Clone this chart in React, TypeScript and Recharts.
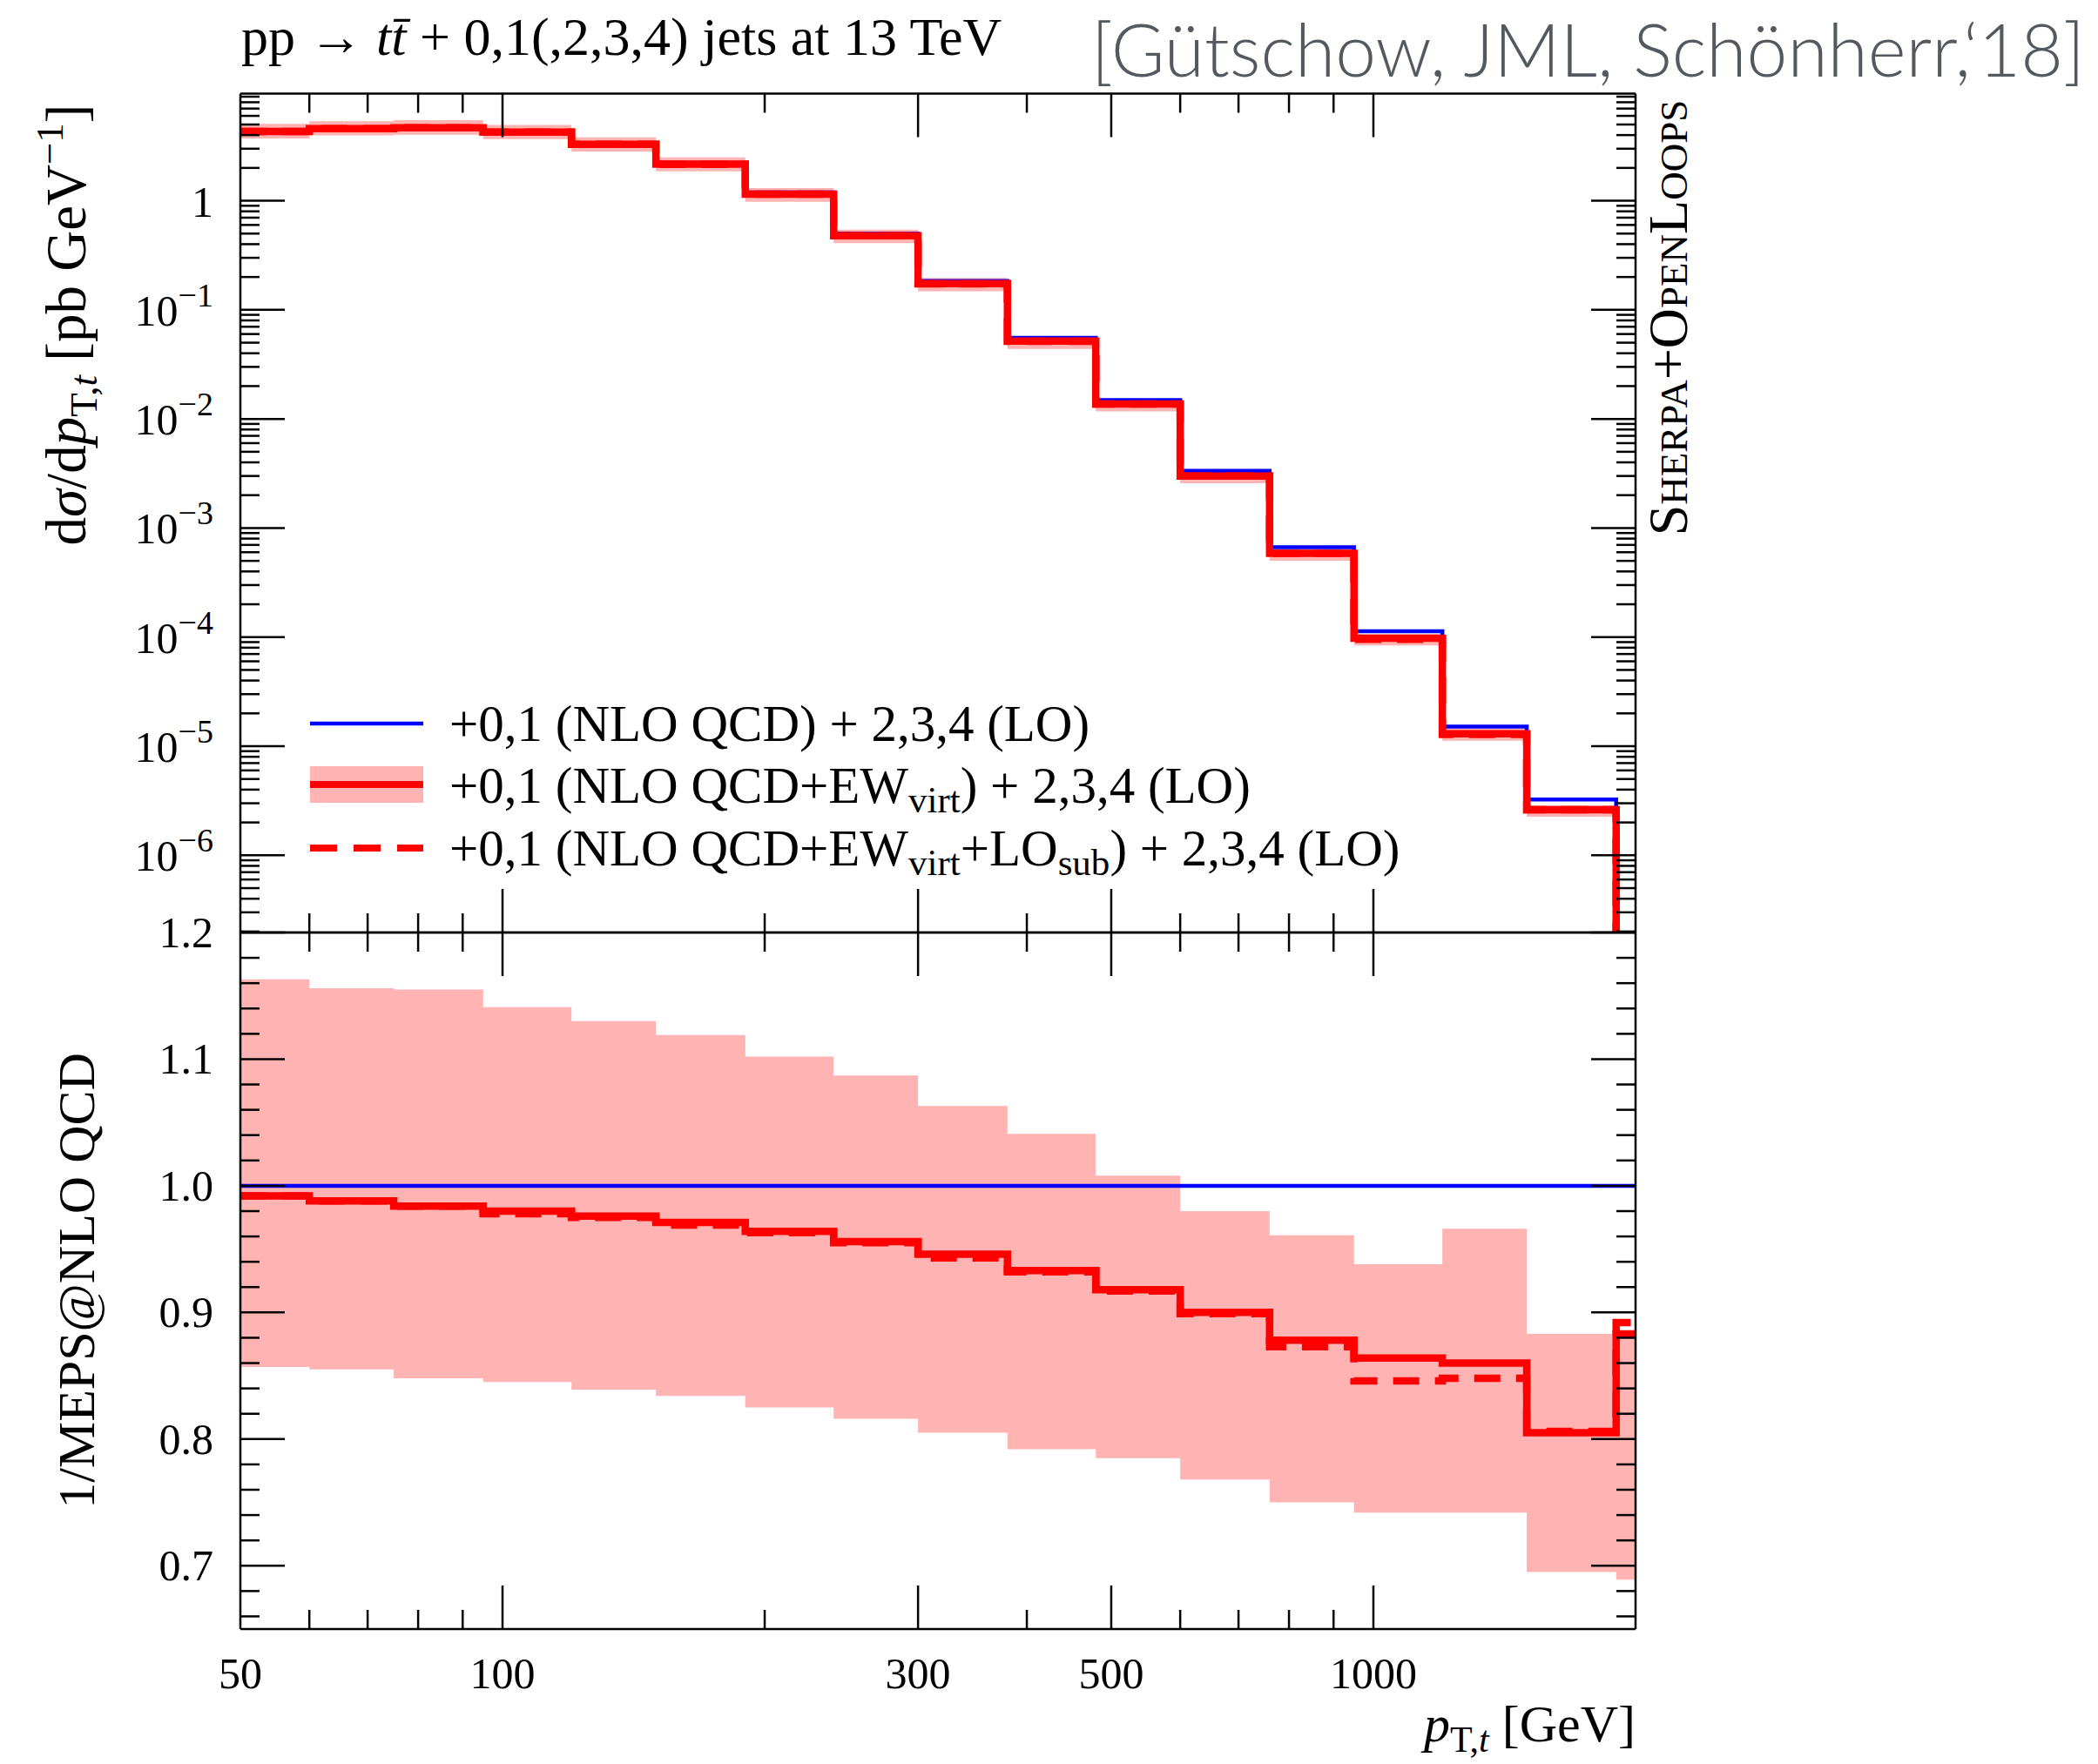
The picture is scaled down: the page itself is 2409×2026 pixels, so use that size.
import { Area, ComposedChart, Line, XAxis, YAxis } from "recharts";

const W = 2409;
const H = 2026;
const FONT = "'Liberation Serif', serif";
const PINK = "#ffb3b3";
const RED = "#ff0000";
const BLUE = "#0000ff";

// plot frame in page pixels
const PLOT_L = 276;
const PLOT_R = 1878;
const TOP_Y0 = 107.5;
const MID_Y = 1071;
const BOT_Y1 = 1871;
const AX = 1; // thickness reserved for each axis

// p_T,t bin edges [GeV]; values below are per bin (17 bins)
const binEdges = [50, 60, 75, 95, 120, 150, 190, 240, 300, 380, 480, 600, 760, 950, 1200, 1500, 1900, 2000];

// dσ/dp_T,t [pb/GeV]
const nloQcd = [4.35, 4.64, 4.75, 4.35, 3.37, 2.23, 1.19, 0.5, 0.184, 0.0553, 0.0149, 3.34e-3, 6.68e-4, 1.13e-4, 1.51e-5, 3.25e-6, 1.2e-7];
const nloQcdEw = [4.31, 4.58, 4.67, 4.26, 3.29, 2.17, 1.15, 0.478, 0.174, 0.0516, 0.0137, 3.0e-3, 5.86e-4, 9.76e-5, 1.3e-5, 2.62e-6, 1.06e-7];
const nloQcdEwSub = [4.31, 4.58, 4.67, 4.25, 3.29, 2.16, 1.15, 0.478, 0.1735, 0.0515, 0.0137, 3.0e-3, 5.83e-4, 9.56e-5, 1.28e-5, 2.62e-6, 1.07e-7];
const bandLo = [3.73, 3.97, 4.03, 3.68, 2.83, 1.86, 0.98, 0.408, 0.148, 0.0438, 0.0117, 2.57e-3, 5.01e-4, 8.38e-5, 1.12e-5, 2.26e-6, 8.3e-8];
const bandHi = [5.06, 5.36, 5.49, 4.96, 3.81, 2.5, 1.31, 0.544, 0.196, 0.0576, 0.015, 3.28e-3, 6.42e-4, 1.06e-4, 1.46e-5, 2.87e-6, 1.06e-7];

// ratio to MEPS@NLO QCD
const ratioQcd = [1, 1, 1, 1, 1, 1, 1, 1, 1, 1, 1, 1, 1, 1, 1, 1, 1];
const ratioEw = [0.992, 0.988, 0.984, 0.98, 0.976, 0.971, 0.964, 0.956, 0.946, 0.933, 0.918, 0.9, 0.878, 0.864, 0.86, 0.805, 0.883];
const ratioEwSub = [0.992, 0.988, 0.984, 0.978, 0.975, 0.969, 0.963, 0.955, 0.943, 0.932, 0.917, 0.899, 0.873, 0.846, 0.848, 0.806, 0.892];
const ratioBandLo = [0.857, 0.855, 0.848, 0.845, 0.839, 0.834, 0.825, 0.816, 0.805, 0.792, 0.785, 0.768, 0.75, 0.742, 0.742, 0.695, 0.689];
const ratioBandHi = [1.163, 1.156, 1.155, 1.141, 1.13, 1.119, 1.102, 1.087, 1.063, 1.041, 1.008, 0.98, 0.961, 0.938, 0.966, 0.883, 0.883];

// axes
const xTicks = [50, 60, 70, 80, 90, 100, 200, 300, 400, 500, 600, 700, 800, 900, 1000, 2000];
const xMajor = [100, 300, 500, 1000];
const xLabels = [50, 100, 300, 500, 1000];
const yDecades = [1e-6, 1e-5, 1e-4, 1e-3, 1e-2, 1e-1, 1];
const logDomain = [1.96e-7, 9.6];
const ratioTicks = [0.66, 0.68, 0.7, 0.72, 0.74, 0.76, 0.78, 0.8, 0.82, 0.84, 0.86, 0.88, 0.9, 0.92, 0.94, 0.96, 0.98, 1.0, 1.02, 1.04, 1.06, 1.08, 1.1, 1.12, 1.14, 1.16, 1.18, 1.2];
const ratioMajor = [0.7, 0.8, 0.9, 1.0, 1.1, 1.2];

const logTicks: number[] = [];
[1e-7, ...yDecades].forEach((d) => {
  for (let m = 1; m <= 9; m++) {
    const v = m * d;
    if (v >= logDomain[0] && v <= logDomain[1]) logTicks.push(v);
  }
});

const last = binEdges.length - 2;
const rows = binEdges.map((x, i) => {
  const j = Math.min(i, last);
  return {
    x,
    qcd: nloQcd[j],
    ew: nloQcdEw[j],
    ewSub: nloQcdEwSub[j],
    band: [bandLo[j], bandHi[j]],
    rQcd: ratioQcd[j],
    rEw: ratioEw[j],
    rEwSub: ratioEwSub[j],
    rBand: [ratioBandLo[j], ratioBandHi[j]],
  };
});

const near = (a: number, b: number) => Math.abs(a - b) < 1e-9 * Math.max(1, Math.abs(b));

function xTick(side: "top" | "bottom", labels: boolean) {
  return (props: any) => {
    const { x, y, payload } = props;
    const v = payload.value;
    const edge = v === 50 || v === 2000;
    const len = xMajor.includes(v) ? 50 : 22;
    const dir = side === "bottom" ? -1 : 1;
    return (
      <g>
        {!edge && <line x1={x} x2={x} y1={y} y2={y + dir * len} stroke="#000" strokeWidth={2.5} />}
        {labels && xLabels.includes(v) && (
          <text x={x} y={y + 68} textAnchor="middle" fontSize={50} fontFamily={FONT} fill="#000">
            {v}
          </text>
        )}
      </g>
    );
  };
}

function logTick(side: "left" | "right") {
  return (props: any) => {
    const { x, y, payload } = props;
    const v = payload.value;
    const major = yDecades.some((d) => near(v, d));
    const len = major ? 51 : 22;
    const dir = side === "left" ? 1 : -1;
    const exp = Math.round(Math.log10(v));
    return (
      <g>
        <line x1={x} x2={x + dir * len} y1={y} y2={y} stroke="#000" strokeWidth={2.5} />
        {side === "left" && major && (
          <text x={245} y={y + 18} textAnchor="end" fontSize={50} fontFamily={FONT} fill="#000">
            {exp === 0 ? "1" : "10"}
            {exp !== 0 && (
              <tspan fontSize={38} dy={-22}>
                {"\u2212" + -exp}
              </tspan>
            )}
          </text>
        )}
      </g>
    );
  };
}

function ratioTick(side: "left" | "right") {
  return (props: any) => {
    const { x, y, payload } = props;
    const v = payload.value;
    const major = ratioMajor.some((d) => near(v, d));
    const len = major ? 51 : 22;
    const dir = side === "left" ? 1 : -1;
    return (
      <g>
        <line x1={x} x2={x + dir * len} y1={y} y2={y} stroke="#000" strokeWidth={2.5} />
        {side === "left" && major && (
          <text x={245} y={y + 17} textAnchor="end" fontSize={50} fontFamily={FONT} fill="#000">
            {v.toFixed(1)}
          </text>
        )}
      </g>
    );
  };
}

const axisLine = { stroke: "#000", strokeWidth: 2.5 };

function TopPanel() {
  return (
    <ComposedChart
      width={W}
      height={H}
      data={rows}
      margin={{ top: TOP_Y0 - AX, right: W - PLOT_R - AX, bottom: H - MID_Y - AX, left: PLOT_L - AX }}
      style={{ position: "absolute", left: 0, top: 0 }}
    >
      <XAxis xAxisId="b" dataKey="x" type="number" scale="log" domain={[50, 2000]} allowDataOverflow ticks={xTicks} interval={0} height={AX} tickSize={0} tickMargin={0} axisLine={axisLine} tickLine={false} tick={xTick("bottom", false)} />
      <XAxis xAxisId="t" orientation="top" dataKey="x" type="number" scale="log" domain={[50, 2000]} allowDataOverflow ticks={xTicks} interval={0} height={AX} tickSize={0} tickMargin={0} axisLine={axisLine} tickLine={false} tick={xTick("top", false)} />
      <YAxis yAxisId="l" type="number" scale="log" domain={logDomain} allowDataOverflow ticks={logTicks} interval={0} width={AX} tickSize={0} tickMargin={0} axisLine={axisLine} tickLine={false} tick={logTick("left")} />
      <YAxis yAxisId="r" orientation="right" type="number" scale="log" domain={logDomain} allowDataOverflow ticks={logTicks} interval={0} width={AX} tickSize={0} tickMargin={0} axisLine={axisLine} tickLine={false} tick={logTick("right")} />
      <Area xAxisId="b" yAxisId="l" type="stepAfter" dataKey="band" stroke="none" fill={PINK} fillOpacity={1} isAnimationActive={false} />
      <Line xAxisId="b" yAxisId="l" type="stepAfter" dataKey="qcd" stroke={BLUE} strokeWidth={4.5} dot={false} isAnimationActive={false} />
      <Line xAxisId="b" yAxisId="l" type="stepAfter" dataKey="ewSub" stroke={RED} strokeWidth={8.5} strokeDasharray="30 18" dot={false} isAnimationActive={false} />
      <Line xAxisId="b" yAxisId="l" type="stepAfter" dataKey="ew" stroke={RED} strokeWidth={8.5} dot={false} isAnimationActive={false} />
    </ComposedChart>
  );
}

function BottomPanel() {
  return (
    <ComposedChart
      width={W}
      height={H}
      data={rows}
      margin={{ top: MID_Y - AX, right: W - PLOT_R - AX, bottom: H - BOT_Y1 - AX, left: PLOT_L - AX }}
      style={{ position: "absolute", left: 0, top: 0 }}
    >
      <XAxis xAxisId="b" dataKey="x" type="number" scale="log" domain={[50, 2000]} allowDataOverflow ticks={xTicks} interval={0} height={AX} tickSize={0} tickMargin={0} axisLine={axisLine} tickLine={false} tick={xTick("bottom", true)} />
      <XAxis xAxisId="t" orientation="top" dataKey="x" type="number" scale="log" domain={[50, 2000]} allowDataOverflow ticks={xTicks} interval={0} height={AX} tickSize={0} tickMargin={0} axisLine={axisLine} tickLine={false} tick={xTick("top", false)} />
      <YAxis yAxisId="l" type="number" domain={[0.65, 1.2]} allowDataOverflow ticks={ratioTicks} interval={0} width={AX} tickSize={0} tickMargin={0} axisLine={axisLine} tickLine={false} tick={ratioTick("left")} />
      <YAxis yAxisId="r" orientation="right" type="number" domain={[0.65, 1.2]} allowDataOverflow ticks={ratioTicks} interval={0} width={AX} tickSize={0} tickMargin={0} axisLine={axisLine} tickLine={false} tick={ratioTick("right")} />
      <Area xAxisId="b" yAxisId="l" type="stepAfter" dataKey="rBand" stroke="none" fill={PINK} fillOpacity={1} isAnimationActive={false} />
      <Line xAxisId="b" yAxisId="l" type="stepAfter" dataKey="rQcd" stroke={BLUE} strokeWidth={4.5} dot={false} isAnimationActive={false} />
      <Line xAxisId="b" yAxisId="l" type="stepAfter" dataKey="rEwSub" stroke={RED} strokeWidth={8.5} strokeDasharray="30 18" dot={false} isAnimationActive={false} />
      <Line xAxisId="b" yAxisId="l" type="stepAfter" dataKey="rEw" stroke={RED} strokeWidth={8.5} dot={false} isAnimationActive={false} />
    </ComposedChart>
  );
}

function Overlay() {
  const sub = 43;
  return (
    <svg width={W} height={H} style={{ position: "absolute", left: 0, top: 0, pointerEvents: "none" }} fontFamily={FONT}>
      {/* title */}
      <text x={277} y={63} fontSize={62}>
        pp {"\u2192"} <tspan fontStyle="italic">t</tspan>
        <tspan fontStyle="italic">{"t\u0304"}</tspan> + 0,1(,2,3,4) jets at 13 TeV
      </text>
      <text x={2394} y={88} textAnchor="end" fontSize={84} fontFamily="Lato, 'Open Sans', sans-serif" fontWeight={300} fill="#54585f">
        [Gütschow, JML, Schönherr,‘18]
      </text>

      {/* legend */}
      <line x1={356} x2={486} y1={831} y2={831} stroke={BLUE} strokeWidth={4.5} />
      <rect x={356} y={880} width={130} height={42} fill={PINK} />
      <line x1={356} x2={486} y1={901} y2={901} stroke={RED} strokeWidth={8} />
      <line x1={356} x2={486} y1={974} y2={974} stroke={RED} strokeWidth={8} strokeDasharray="31 19" />
      <text x={516} y={851} fontSize={59}>+0,1 (NLO QCD) + 2,3,4 (LO)</text>
      <text x={516} y={922} fontSize={59}>
        +0,1 (NLO QCD+EW<tspan fontSize={sub} dy={11}>virt</tspan>
        <tspan dy={-11}>) + 2,3,4 (LO)</tspan>
      </text>
      <text x={516} y={994} fontSize={59}>
        +0,1 (NLO QCD+EW<tspan fontSize={sub} dy={11}>virt</tspan>
        <tspan dy={-11}>+LO</tspan>
        <tspan fontSize={sub} dy={11}>sub</tspan>
        <tspan dy={-11}>) + 2,3,4 (LO)</tspan>
      </text>

      {/* axis titles */}
      <text transform="translate(98,373) rotate(-90)" textAnchor="middle" fontSize={65}>
        d<tspan fontStyle="italic">σ</tspan>/d<tspan fontStyle="italic">p</tspan>
        <tspan fontSize={45} dy={13}>T,</tspan>
        <tspan fontSize={45} fontStyle="italic">t</tspan>
        <tspan dy={-13}> [pb GeV</tspan>
        <tspan fontSize={45} dy={-26}>{"\u22121"}</tspan>
        <tspan dy={26}>]</tspan>
      </text>
      <text transform="translate(108,1471) rotate(-90)" textAnchor="middle" fontSize={60}>
        1/MEPS@NLO QCD
      </text>
      <text x={PLOT_R} y={2000} textAnchor="end" fontSize={60}>
        <tspan fontStyle="italic">p</tspan>
        <tspan fontSize={42} dy={12}>T,</tspan>
        <tspan fontSize={42} fontStyle="italic">t</tspan>
        <tspan dy={-12}> [GeV]</tspan>
      </text>
      <text transform="translate(1937,365) rotate(-90)" textAnchor="middle" fontSize={64} style={{ fontVariant: "small-caps" }}>
        Sherpa+OpenLoops
      </text>
    </svg>
  );
}

export default function App() {
  return (
    <div style={{ position: "absolute", left: 0, top: 0, width: W, height: H, background: "#fff", fontFamily: FONT }}>
      <TopPanel />
      <BottomPanel />
      <Overlay />
    </div>
  );
}
